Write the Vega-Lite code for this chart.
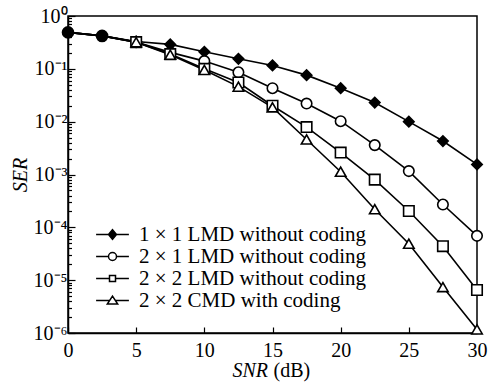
{
  "$schema": "https://vega.github.io/schema/vega-lite/v6.json",
  "width": 409,
  "height": 317,
  "autosize": "none",
  "padding": {"left": 68, "top": 16, "right": 12, "bottom": 52},
  "background": "white",
  "config": {
    "view": {"stroke": "black", "strokeWidth": 1.5},
    "font": "Liberation Serif",
    "axis": {"grid": false, "domainColor": "black", "domainWidth": 1.5, "tickColor": "black", "tickWidth": 1.2, "labelColor": "black", "titleColor": "black", "labelFont": "Liberation Serif", "titleFont": "Liberation Serif"}
  },
  "data": {
    "values": [
      {"snr": 0, "ser": 0.49, "scheme": "1 × 1 LMD without coding"},
      {"snr": 2.5, "ser": 0.42, "scheme": "1 × 1 LMD without coding"},
      {"snr": 5, "ser": 0.33, "scheme": "1 × 1 LMD without coding"},
      {"snr": 7.5, "ser": 0.29, "scheme": "1 × 1 LMD without coding"},
      {"snr": 10, "ser": 0.21, "scheme": "1 × 1 LMD without coding"},
      {"snr": 12.5, "ser": 0.155, "scheme": "1 × 1 LMD without coding"},
      {"snr": 15, "ser": 0.116, "scheme": "1 × 1 LMD without coding"},
      {"snr": 17.5, "ser": 0.076, "scheme": "1 × 1 LMD without coding"},
      {"snr": 20, "ser": 0.043, "scheme": "1 × 1 LMD without coding"},
      {"snr": 22.5, "ser": 0.023, "scheme": "1 × 1 LMD without coding"},
      {"snr": 25, "ser": 0.0100, "scheme": "1 × 1 LMD without coding"},
      {"snr": 27.5, "ser": 0.0043, "scheme": "1 × 1 LMD without coding"},
      {"snr": 30, "ser": 0.00155, "scheme": "1 × 1 LMD without coding"},
      {"snr": 0, "ser": 0.49, "scheme": "2 × 1 LMD without coding"},
      {"snr": 2.5, "ser": 0.42, "scheme": "2 × 1 LMD without coding"},
      {"snr": 5, "ser": 0.32, "scheme": "2 × 1 LMD without coding"},
      {"snr": 7.5, "ser": 0.205, "scheme": "2 × 1 LMD without coding"},
      {"snr": 10, "ser": 0.14, "scheme": "2 × 1 LMD without coding"},
      {"snr": 12.5, "ser": 0.086, "scheme": "2 × 1 LMD without coding"},
      {"snr": 15, "ser": 0.043, "scheme": "2 × 1 LMD without coding"},
      {"snr": 17.5, "ser": 0.022, "scheme": "2 × 1 LMD without coding"},
      {"snr": 20, "ser": 0.0102, "scheme": "2 × 1 LMD without coding"},
      {"snr": 22.5, "ser": 0.0036, "scheme": "2 × 1 LMD without coding"},
      {"snr": 25, "ser": 0.00116, "scheme": "2 × 1 LMD without coding"},
      {"snr": 27.5, "ser": 0.00027, "scheme": "2 × 1 LMD without coding"},
      {"snr": 30, "ser": 0.000069, "scheme": "2 × 1 LMD without coding"},
      {"snr": 0, "ser": 0.49, "scheme": "2 × 2 LMD without coding"},
      {"snr": 2.5, "ser": 0.42, "scheme": "2 × 2 LMD without coding"},
      {"snr": 5, "ser": 0.32, "scheme": "2 × 2 LMD without coding"},
      {"snr": 7.5, "ser": 0.19, "scheme": "2 × 2 LMD without coding"},
      {"snr": 10, "ser": 0.10, "scheme": "2 × 2 LMD without coding"},
      {"snr": 12.5, "ser": 0.055, "scheme": "2 × 2 LMD without coding"},
      {"snr": 15, "ser": 0.020, "scheme": "2 × 2 LMD without coding"},
      {"snr": 17.5, "ser": 0.0079, "scheme": "2 × 2 LMD without coding"},
      {"snr": 20, "ser": 0.0026, "scheme": "2 × 2 LMD without coding"},
      {"snr": 22.5, "ser": 0.0008, "scheme": "2 × 2 LMD without coding"},
      {"snr": 25, "ser": 0.000204, "scheme": "2 × 2 LMD without coding"},
      {"snr": 27.5, "ser": 0.000044, "scheme": "2 × 2 LMD without coding"},
      {"snr": 30, "ser": 0.0000065, "scheme": "2 × 2 LMD without coding"},
      {"snr": 0, "ser": 0.49, "scheme": "2 × 2 CMD with coding"},
      {"snr": 2.5, "ser": 0.42, "scheme": "2 × 2 CMD with coding"},
      {"snr": 5, "ser": 0.32, "scheme": "2 × 2 CMD with coding"},
      {"snr": 7.5, "ser": 0.185, "scheme": "2 × 2 CMD with coding"},
      {"snr": 10, "ser": 0.095, "scheme": "2 × 2 CMD with coding"},
      {"snr": 12.5, "ser": 0.046, "scheme": "2 × 2 CMD with coding"},
      {"snr": 15, "ser": 0.0187, "scheme": "2 × 2 CMD with coding"},
      {"snr": 17.5, "ser": 0.0046, "scheme": "2 × 2 CMD with coding"},
      {"snr": 20, "ser": 0.00113, "scheme": "2 × 2 CMD with coding"},
      {"snr": 22.5, "ser": 0.00022, "scheme": "2 × 2 CMD with coding"},
      {"snr": 25, "ser": 0.000049, "scheme": "2 × 2 CMD with coding"},
      {"snr": 27.5, "ser": 0.0000074, "scheme": "2 × 2 CMD with coding"},
      {"snr": 30, "ser": 0.00000117, "scheme": "2 × 2 CMD with coding"}
    ]
  },
  "encoding": {
    "y": {
      "field": "ser", "type": "quantitative",
      "scale": {"type": "log", "domain": [0.000001, 1], "nice": false},
      "axis": {
        "values": [0.000001,0.000002,0.000003,0.000004,0.000005,0.000006,0.000007,0.000008,0.000009,
                   0.00001,0.00002,0.00003,0.00004,0.00005,0.00006,0.00007,0.00008,0.00009,
                   0.0001,0.0002,0.0003,0.0004,0.0005,0.0006,0.0007,0.0008,0.0009,
                   0.001,0.002,0.003,0.004,0.005,0.006,0.007,0.008,0.009,
                   0.01,0.02,0.03,0.04,0.05,0.06,0.07,0.08,0.09,
                   0.1,0.2,0.3,0.4,0.5,0.6,0.7,0.8,0.9,1],
        "labelExpr": "datum.value == 1 ? '10⁰' : datum.value == 0.1 ? '10⁻¹' : datum.value == 0.01 ? '10⁻²' : datum.value == 0.001 ? '10⁻³' : datum.value == 0.0001 ? '10⁻⁴' : datum.value == 0.00001 ? '10⁻⁵' : datum.value == 0.000001 ? '10⁻⁶' : ''",
        "tickSize": {"condition": {"test": "abs(log(datum.value)/LN10 - round(log(datum.value)/LN10)) < 0.001", "value": -7}, "value": -3.5},
        "labelFontSize": 20, "labelPadding": 8, "labelFlush": false, "labelOverlap": false,
        "title": "SER", "titleFontSize": 20, "titleFontStyle": "italic", "titleFontWeight": "normal", "titlePadding": 3
      }
    }
  },
  "resolve": {"axis": {"x": "independent"}, "scale": {"shape": "independent", "fill": "independent"}},
  "layer": [
    {
      "mark": {"type": "line", "color": "black", "strokeWidth": 1.6},
      "encoding": {
        "x": {
          "field": "snr", "type": "quantitative",
          "scale": {"domain": [0, 30], "nice": false, "zero": false},
          "axis": {"orient": "bottom", "values": [0, 5, 10, 15, 20, 25, 30], "tickSize": -6, "labelFontSize": 20, "labelPadding": 13, "labelFlush": false,
                   "title": "SNR", "titleFontSize": 20, "titleFontStyle": "italic", "titleFontWeight": "normal",
                   "titleX": 164, "titleY": 43, "titleAlign": "left", "titleBaseline": "alphabetic", "titleAnchor": null}
        },
        "detail": {"field": "scheme"}
      }
    },
    {
      "transform": [{"filter": "datum.snr >= 5"}],
      "mark": {"type": "point", "stroke": "black", "strokeWidth": 1.6, "size": 110, "opacity": 1, "filled": false},
      "encoding": {
        "x": {"field": "snr", "type": "quantitative", "axis": null},
        "shape": {
          "field": "scheme", "type": "nominal",
          "scale": {"domain": ["1 × 1 LMD without coding", "2 × 1 LMD without coding", "2 × 2 LMD without coding", "2 × 2 CMD with coding"], "range": ["diamond", "circle", "square", "triangle-up"]},
          "legend": null
        },
        "fill": {
          "field": "scheme", "type": "nominal",
          "scale": {"domain": ["1 × 1 LMD without coding", "2 × 1 LMD without coding", "2 × 2 LMD without coding", "2 × 2 CMD with coding"], "range": ["black", "white", "white", "white"]},
          "legend": null
        }
      }
    },
    {
      "transform": [{"filter": "datum.snr < 5 && datum.scheme == '2 × 1 LMD without coding'"}],
      "mark": {"type": "point", "shape": "circle", "filled": true, "color": "black", "size": 160, "opacity": 1},
      "encoding": {
        "x": {"field": "snr", "type": "quantitative",
              "axis": {"orient": "bottom", "labels": false, "ticks": false, "domain": false, "title": "(dB)", "titleFontSize": 20, "titleFontStyle": "normal", "titleFontWeight": "normal",
                       "titleX": 205, "titleY": 43, "titleAlign": "left", "titleBaseline": "alphabetic", "titleAnchor": null}}
      }
    },
    {
      "transform": [{"filter": "datum.snr > 100"}],
      "mark": {"type": "point", "stroke": "black", "strokeWidth": 1.5, "opacity": 1, "filled": false},
      "encoding": {
        "x": {"field": "snr", "type": "quantitative", "axis": null},
        "shape": {
          "field": "scheme", "type": "nominal",
          "scale": {"domain": ["1 × 1 LMD without coding", "2 × 1 LMD without coding", "2 × 2 LMD without coding", "2 × 2 CMD with coding"],
                    "range": ["M-4.1,0H4.1M0,-1.2L1,0L0,1.2L-1,0Z", "M-4.1,0H-1M1,0H4.1M1,0A1,1,0,1,1,-1,0A1,1,0,1,1,1,0Z", "M-4.1,0H-0.75M0.75,0H4.1M-0.75,-0.75H0.75V0.75H-0.75Z", "M-4.1,0H-0.7M0.7,0H4.1M0,-1.1L1.3,0.9L-1.3,0.9Z"]},
          "legend": {
            "title": null, "orient": "none", "legendX": 34, "legendY": 208,
            "labelFontSize": 21, "labelFont": "Liberation Serif", "labelColor": "black", "labelLimit": 400,
            "symbolSize": 64, "symbolStrokeWidth": 1.5,
            "labelOffset": 16, "rowPadding": 0, "padding": 0
          }
        },
        "fill": {
          "field": "scheme", "type": "nominal",
          "scale": {"domain": ["1 × 1 LMD without coding", "2 × 1 LMD without coding", "2 × 2 LMD without coding", "2 × 2 CMD with coding"], "range": ["black", "white", "white", "white"]},
          "legend": null
        }
      }
    }
  ]
}
